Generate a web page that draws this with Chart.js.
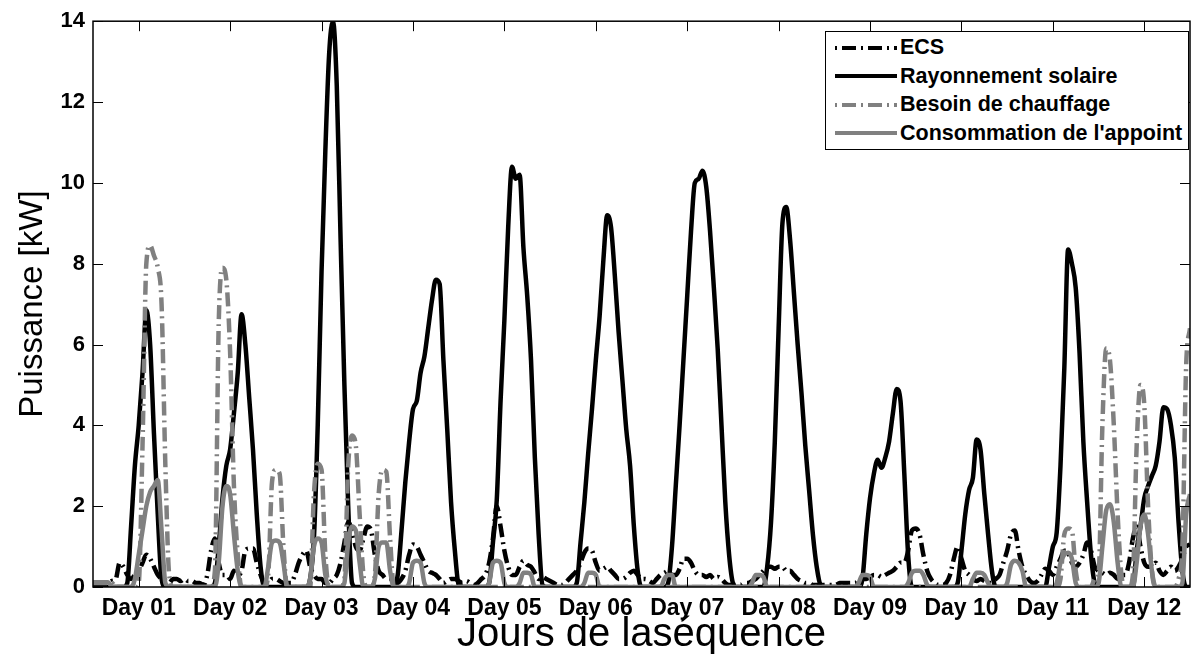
<!DOCTYPE html>
<html>
<head>
<meta charset="utf-8">
<script src="https://cdn.jsdelivr.net/npm/chart.js@4.4.1/dist/chart.umd.min.js"></script>
<style>
    html, body { margin: 0; padding: 0; background: #fff; }
    #wrap { position: relative; width: 1199px; height: 661px; }
    #legend {
        position: absolute; left: 825px; top: 31px; width: 362px; height: 117px;
        border: 1.5px solid #000; background: #fff;
        font: bold 21.5px 'Liberation Sans', Arial, sans-serif; color: #000;
    }
    .row { position: absolute; left: 0; height: 28px; display: flex; align-items: center; white-space: nowrap; }
    .row svg { margin-left: 9px; margin-right: 3px; }
</style>
</head>
<body>
<div id="wrap">
    <canvas id="chart" width="1199" height="661"></canvas>
    <div id="legend"></div>
</div>
<script>
// Hourly power over a 12-day sequence (kW), hours 0..288

const DAY_LABELS = ['Day 01', 'Day 02', 'Day 03', 'Day 04', 'Day 05', 'Day 06',
    'Day 07', 'Day 08', 'Day 09', 'Day 10', 'Day 11', 'Day 12'];
const DAY_TICKS = [12, 36, 60, 84, 108, 132, 156, 180, 204, 228, 252, 276]; // hour at mid-day
const Y_TICKS = [0, 2, 4, 6, 8, 10, 12, 14];

const SERIES_NAMES = ['ECS', 'Rayonnement solaire', 'Besoin de chauffage', "Consommation de l'appoint"];

const ECS = [
    0.05, 0.05, 0.1, 0.1, 0.1, 0.15, 0.2, 0.6, 0.5, 0.3, 0.2, 0.3, 0.4, 0.6, 0.8, 0.7, 0.5, 0.3, 0.2, 0.15, 0.1, 0.2, 0.2, 0.15,
    0.2, 0.15, 0.15, 0.1, 0.1, 0.05, 0.3, 0.9, 1.2, 0.6, 0.3, 0.3, 0.2, 0.4, 0.3, 0.4, 0.9, 0.95, 0.95, 0.6, 0.3, 0.1, 0.1, 0.2,
    0.2, 0.15, 0.1, 0.1, 0.1, 0.3, 0.6, 0.8, 0.9, 0.5, 0.3, 0.2, 0.2, 0.1, 0.1, 0.2, 0.3, 0.6, 1.1, 1.6, 1.4, 1.0, 0.9, 1.2,
    1.5, 1.4, 0.8, 0.4, 0.3, 0.2, 0.2, 0.1, 0.1, 0.2, 0.4, 0.8, 1.05, 1.0, 0.8, 0.6, 0.4, 0.35, 0.3, 0.2, 0.1, 0.15, 0.2, 0.2,
    0.15, 0.1, 0.15, 0.1, 0.05, 0.1, 0.2, 0.3, 0.6, 1.2, 2.0, 1.5, 0.9, 0.5, 0.3, 0.3, 0.5, 0.65, 0.55, 0.5, 0.35, 0.2, 0.25, 0.2,
    0.15, 0.1, 0.05, 0.05, 0.1, 0.2, 0.3, 0.4, 0.6, 0.85, 0.95, 0.9, 0.6, 0.4, 0.45, 0.5, 0.4, 0.3, 0.2, 0.2, 0.25, 0.35, 0.4, 0.3,
    0.2, 0.2, 0.15, 0.1, 0.2, 0.3, 0.35, 0.4, 0.3, 0.3, 0.45, 0.7, 0.7, 0.6, 0.4, 0.3, 0.3, 0.25, 0.3, 0.2, 0.25, 0.2, 0.1, 0.05,
    0.05, 0.05, 0.05, 0.1, 0.1, 0.15, 0.2, 0.3, 0.4, 0.5, 0.5, 0.45, 0.5, 0.5, 0.4, 0.4, 0.3, 0.2, 0.15, 0.1, 0.1, 0.05, 0.05, 0.05,
    0.05, 0.05, 0.05, 0.05, 0.1, 0.1, 0.1, 0.1, 0.1, 0.15, 0.2, 0.2, 0.25, 0.3, 0.3, 0.25, 0.3, 0.35, 0.4, 0.5, 0.6, 0.6, 0.9, 1.4,
    1.45, 1.3, 0.8, 0.4, 0.2, 0.1, 0.05, 0.05, 0.1, 0.3, 0.7, 1.0, 0.7, 0.4, 0.3, 0.2, 0.15, 0.2, 0.15, 0.1, 0.1, 0.2, 0.3, 0.6,
    0.9, 1.3, 1.4, 0.9, 0.5, 0.3, 0.15, 0.1, 0.15, 0.3, 0.45, 0.4, 0.3, 0.5, 0.7, 0.9, 0.85, 0.6, 0.5, 0.6, 0.8, 1.1, 0.9, 0.5,
    0.4, 0.35, 0.3, 0.35, 0.3, 0.2, 0.3, 0.3, 0.6, 1.2, 1.5, 1.0, 0.6, 0.5, 0.5, 0.6, 0.4, 0.3, 0.4, 0.5, 0.4, 0.5, 0.7, 1.0,
    1.05,
];

const SOLAR = [
    0, 0, 0, 0, 0, 0, 0, 0, 0, 0.1, 1.5, 3.0, 4.0, 5.3, 6.85, 6.0, 3.8, 1.8, 0.2, 0, 0, 0, 0, 0,
    0, 0, 0, 0, 0, 0, 0, 0, 0.1, 1.0, 2.2, 3.0, 3.4, 4.3, 5.3, 6.75, 6.0, 4.7, 3.4, 1.8, 0.5, 0, 0, 0,
    0, 0, 0, 0, 0, 0, 0, 0, 0, 0.2, 1.2, 4.0, 7.8, 10.8, 13.2, 14.0, 12.4, 8.6, 5.0, 2.0, 0.1, 0, 0, 0,
    0, 0, 0, 0, 0, 0, 0, 0, 0.3, 1.4, 2.6, 3.6, 4.4, 4.6, 5.3, 5.7, 6.4, 7.1, 7.6, 7.5, 5.6, 3.9, 2.1, 0.9,
    0.05, 0, 0, 0, 0, 0, 0, 0, 0.1, 1.1, 2.15, 4.6, 6.6, 8.9, 10.4, 10.1, 10.2, 8.4, 7.2, 5.6, 3.2, 1.3, 0.05, 0,
    0, 0, 0, 0, 0, 0, 0, 0.1, 1.1, 2.1, 3.3, 4.4, 5.6, 6.7, 8.1, 9.2, 8.9, 7.7, 6.3, 5.1, 3.9, 3.0, 1.5, 0.4,
    0, 0, 0, 0, 0, 0, 0, 0.1, 1.0, 2.5, 4.0, 5.6, 7.2, 8.8, 10.0, 10.1, 10.3, 9.9, 8.8, 7.4, 5.9, 4.0, 2.1, 0.8,
    0.1, 0, 0, 0, 0, 0, 0, 0, 0, 0.5, 1.6, 3.6, 6.4, 9.0, 9.4, 8.6, 7.3, 6.0, 4.8, 3.5, 2.4, 1.3, 0.5, 0.05,
    0, 0, 0, 0, 0, 0, 0, 0, 0, 0, 0.2, 1.3, 2.2, 2.8, 3.15, 2.95, 3.2, 3.6, 4.3, 4.9, 4.6, 2.8, 0.8, 0,
    0, 0, 0, 0, 0, 0, 0, 0, 0, 0, 0, 0.1, 0.9, 1.8, 2.4, 2.7, 3.65, 3.4, 2.3, 1.3, 0.4, 0, 0, 0,
    0, 0, 0, 0, 0, 0, 0, 0, 0, 0, 0, 0.5, 1.0, 1.35, 3.0, 5.4, 8.35, 8.0, 7.4, 5.8, 3.6, 2.1, 0.8, 0.1,
    0, 0, 0, 0, 0, 0, 0, 0, 0, 0, 0.9, 1.5, 2.2, 2.5, 2.75, 3.0, 3.6, 4.45, 4.4, 4.0, 3.2, 1.6, 0.4, 0,
    0,
];

const HEATING = [
    0.1, 0.1, 0.1, 0.1, 0.1, 0.1, 0, 0, 0, 0, 0, 0, 0.1, 3.5, 8.0, 8.45, 8.2, 7.9, 7.0, 3.0, 0.3, 0, 0, 0,
    0, 0, 0, 0, 0, 0, 0, 0, 0.4, 6.5, 7.9, 7.6, 5.8, 2.5, 0.8, 0, 0, 0, 0, 0, 0, 0, 0.3, 2.6,
    2.9, 2.8, 1.0, 0, 0, 0, 0, 0, 0, 0, 2.3, 3.05, 2.9, 0.8, 0, 0, 0, 0, 0.2, 3.0, 3.75, 3.5, 1.8, 0.3,
    0, 0, 0.3, 2.3, 2.9, 2.85, 1.2, 0, 0, 0, 0, 0, 0, 0, 0, 0, 0, 0, 0, 0, 0, 0, 0, 0,
    0, 0, 0, 0, 0, 0, 0, 0, 0, 0, 0, 0, 0, 0, 0, 0, 0, 0, 0, 0, 0, 0, 0, 0,
    0, 0, 0, 0, 0, 0, 0, 0, 0, 0, 0, 0, 0, 0, 0, 0, 0, 0, 0, 0, 0, 0, 0, 0,
    0, 0, 0, 0, 0, 0, 0, 0, 0, 0, 0, 0, 0, 0, 0, 0, 0, 0, 0, 0, 0, 0, 0, 0,
    0, 0, 0, 0, 0, 0, 0, 0, 0, 0, 0, 0, 0, 0, 0, 0, 0, 0, 0, 0, 0, 0, 0, 0,
    0, 0, 0, 0, 0, 0, 0, 0, 0, 0, 0, 0, 0, 0, 0, 0, 0, 0, 0, 0, 0, 0, 0, 0,
    0, 0, 0, 0, 0, 0, 0, 0, 0, 0, 0, 0, 0, 0, 0, 0, 0, 0, 0, 0, 0, 0, 0, 0,
    0, 0, 0, 0, 0, 0, 0, 0, 0, 0, 0, 0, 0, 0, 0.2, 1.3, 1.45, 1.4, 0.4, 0, 0, 0, 0, 0.2,
    0.3, 4.0, 5.9, 5.6, 4.0, 1.8, 0.3, 0, 0, 0.3, 3.5, 5.0, 4.5, 2.0, 0.4, 0, 0, 0, 0, 0, 0, 0.2, 1.0, 5.5,
    6.4,
];

const BACKUP = [
    0.12, 0.12, 0.12, 0.12, 0.12, 0, 0, 0, 0, 0, 0, 0.2, 0.8, 1.4, 2.0, 2.35, 2.5, 2.65, 1.4, 0.1, 0, 0, 0, 0,
    0, 0, 0, 0, 0, 0, 0, 0, 0, 0.6, 2.0, 2.5, 2.3, 1.3, 0.4, 0, 0, 0, 0, 0, 0, 0, 0.5, 1.1,
    1.15, 1.1, 0.6, 0, 0, 0, 0, 0, 0, 0.2, 1.0, 1.2, 1.1, 0.3, 0, 0, 0, 0, 0.1, 1.1, 1.5, 1.4, 0.6, 0,
    0, 0, 0.2, 1.0, 1.1, 1.1, 0.4, 0, 0, 0, 0, 0.1, 0.6, 0.65, 0.6, 0.1, 0, 0, 0, 0, 0, 0, 0, 0,
    0, 0, 0, 0, 0, 0, 0, 0, 0.1, 0.6, 0.65, 0.6, 0.1, 0, 0, 0, 0.1, 0.35, 0.35, 0.3, 0, 0, 0, 0,
    0, 0, 0, 0, 0, 0, 0, 0, 0, 0.1, 0.35, 0.35, 0.3, 0, 0, 0, 0, 0, 0, 0, 0, 0, 0, 0,
    0, 0, 0, 0, 0, 0, 0.2, 0.3, 0.3, 0, 0, 0, 0, 0, 0, 0, 0, 0, 0, 0, 0, 0, 0, 0,
    0, 0, 0, 0, 0, 0.1, 0.3, 0.3, 0.25, 0, 0, 0, 0, 0, 0, 0, 0, 0, 0, 0, 0, 0, 0, 0,
    0, 0, 0, 0, 0, 0, 0, 0, 0, 0.1, 0.3, 0.3, 0.25, 0, 0, 0, 0, 0, 0, 0, 0, 0, 0.1, 0.35,
    0.4, 0.4, 0.3, 0.05, 0, 0, 0, 0, 0, 0, 0, 0, 0, 0, 0, 0.2, 0.35, 0.35, 0.3, 0.1, 0, 0, 0, 0,
    0.1, 0.55, 0.65, 0.6, 0.4, 0, 0, 0, 0, 0, 0, 0, 0, 0.1, 0.6, 0.8, 0.85, 0.7, 0.1, 0, 0, 0, 0, 0,
    0.1, 1.0, 1.9, 2.05, 1.6, 0.6, 0, 0, 0, 0, 0.6, 1.5, 1.8, 1.3, 0.4, 0, 0, 0, 0, 0, 0, 0, 0.1, 1.8,
    2.3,
];

const GRAY = '#808080';
const FONT = "'Liberation Sans', Arial, sans-serif";
const DASH_DOT = [14, 5, 2, 5];

const STYLES = [
    { color: '#000', dash: DASH_DOT, order: 4 },
    { color: '#000', dash: [], order: 3 },
    { color: GRAY, dash: DASH_DOT, order: 2 },
    { color: GRAY, dash: [], order: 1 },
];

const toPoints = arr => arr.map((v, i) => ({ x: i, y: v }));

const datasets = [ECS, SOLAR, HEATING, BACKUP].map((values, i) => ({
    label: SERIES_NAMES[i],
    data: toPoints(values),
    borderColor: STYLES[i].color,
    borderDash: STYLES[i].dash,
    borderWidth: 4.5,
    borderCapStyle: 'butt',
    borderJoinStyle: 'round',
    pointRadius: 0,
    cubicInterpolationMode: 'monotone',
    order: STYLES[i].order,
}));

// Box around the axes with MATLAB-style inward tick marks
const framePlugin = {
    id: 'frame',
    afterDatasetsDraw(chart) {
        const { ctx, chartArea: a, scales: { x, y } } = chart;
        const len = 10;
        ctx.save();
        ctx.strokeStyle = '#000';
        ctx.lineWidth = 1;
        ctx.beginPath();
        x.ticks.forEach(t => {
            const px = Math.round(x.getPixelForValue(t.value)) + 0.5;
            ctx.moveTo(px, a.top); ctx.lineTo(px, a.top + len);
            ctx.moveTo(px, a.bottom); ctx.lineTo(px, a.bottom - len);
        });
        y.ticks.forEach(t => {
            const py = Math.round(y.getPixelForValue(t.value)) + 0.5;
            ctx.moveTo(a.left, py); ctx.lineTo(a.left + len, py);
            ctx.moveTo(a.right, py); ctx.lineTo(a.right - len, py);
        });
        ctx.stroke();
        ctx.lineWidth = 1.5;
        ctx.strokeRect(a.left, a.top, a.right - a.left, a.bottom - a.top);
        ctx.restore();
    },
};

new Chart(document.getElementById('chart'), {
    type: 'line',
    data: { datasets },
    plugins: [framePlugin],
    options: {
        responsive: false,
        animation: false,
        devicePixelRatio: 1,
        layout: { padding: { left: 0, right: 9, top: 20, bottom: 0 } },
        plugins: { legend: { display: false }, tooltip: { enabled: false } },
        scales: {
            x: {
                type: 'linear',
                min: 0,
                max: 288,
                afterBuildTicks: s => { s.ticks = DAY_TICKS.map(v => ({ value: v })); },
                afterFit: s => { s.height = 74; },
                grid: { display: false, drawTicks: false },
                border: { display: false },
                ticks: {
                    autoSkip: false,
                    maxRotation: 0,
                    padding: 8,
                    color: '#000',
                    font: { family: FONT, size: 23, weight: 'bold' },
                    callback: v => DAY_LABELS[DAY_TICKS.indexOf(v)],
                },
                title: {
                    display: true,
                    text: 'Jours de laséquence',
                    color: '#000',
                    font: { family: FONT, size: 40, lineHeight: 1 },
                    padding: { top: 0, bottom: 6 },
                },
            },
            y: {
                min: 0,
                max: 14,
                afterBuildTicks: s => { s.ticks = Y_TICKS.map(v => ({ value: v })); },
                afterFit: s => { s.width = 93; },
                grid: { display: false, drawTicks: false },
                border: { display: false },
                ticks: {
                    padding: 8,
                    color: '#000',
                    font: { family: FONT, size: 22, weight: 'bold' },
                },
                title: {
                    display: true,
                    text: 'Puissance [kW]',
                    color: '#000',
                    font: { family: FONT, size: 33, lineHeight: 1 },
                    padding: { top: 16, bottom: 0 },
                },
            },
        },
    },
});

// Legend box, top right inside the axes
const legend = document.getElementById('legend');
const ROW_TOPS = [1.5, 30, 58.5, 87];
SERIES_NAMES.forEach((name, i) => {
    const row = document.createElement('div');
    row.className = 'row';
    row.style.top = ROW_TOPS[i] + 'px';
    const dash = STYLES[i].dash.length ? `stroke-dasharray="2 5 14 5"` : '';
    row.innerHTML = `<svg width="62" height="10"><line x1="0" y1="5" x2="62" y2="5" stroke="${STYLES[i].color}" stroke-width="4" ${dash}/></svg><span></span>`;
    row.querySelector('span').textContent = name;
    legend.appendChild(row);
});
</script>
</body>
</html>
